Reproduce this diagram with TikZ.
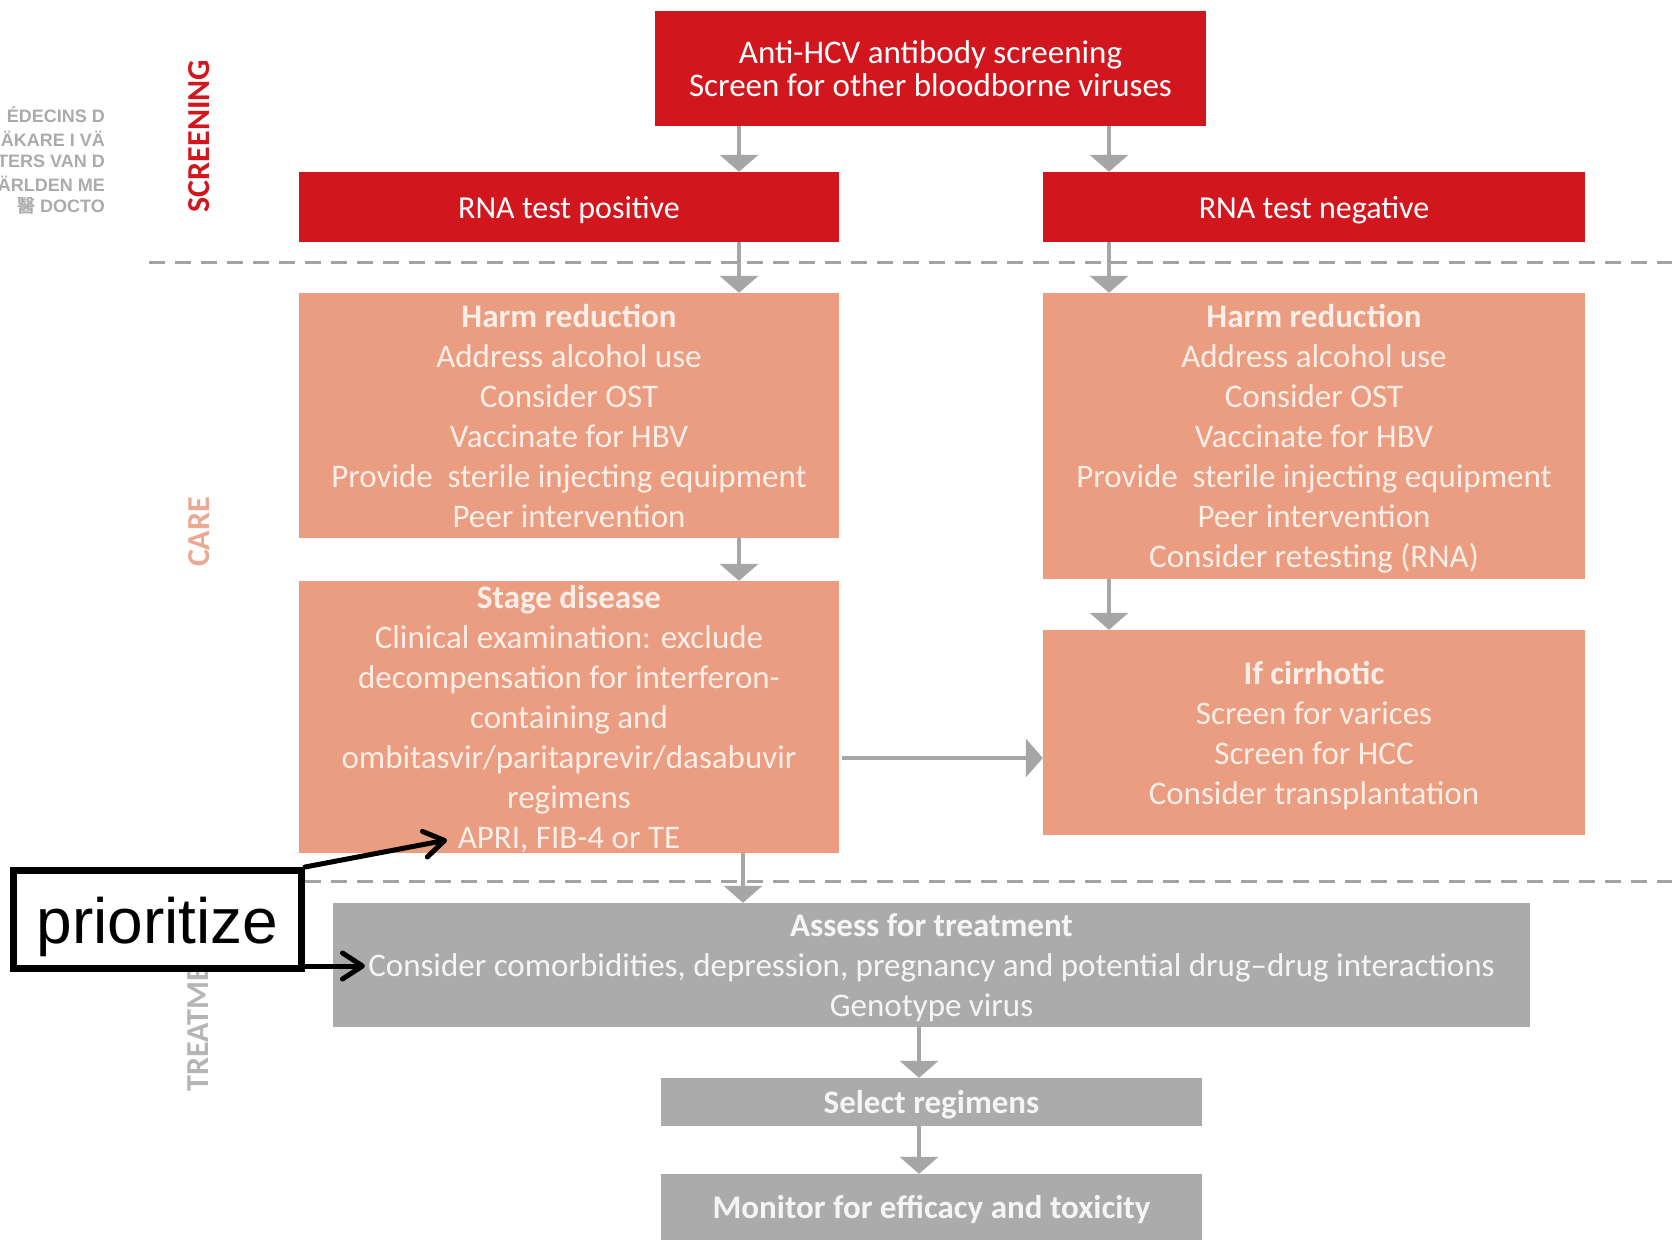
\documentclass[tikz,border=0pt]{standalone}
\usepackage{fontspec}
\setmainfont{Carlito}
\newfontfamily\wmfont{Liberation Sans}
\newfontfamily\calloutfont{Liberation Sans}
\newfontfamily\cjkfont{Noto Sans CJK TC}
\usetikzlibrary{arrows.meta,calc}
\definecolor{hred}{HTML}{D2161E}
\definecolor{salm}{HTML}{EA9D80}
\definecolor{saltxt}{HTML}{FDEEE8}
\definecolor{gbox}{HTML}{ABABAB}
\definecolor{gtxt}{HTML}{F5F5F5}
\definecolor{arrg}{HTML}{A6A6A6}
\definecolor{dashg}{HTML}{A3A3A3}
\definecolor{carec}{HTML}{EBA892}
\definecolor{treatc}{HTML}{B5B5B5}
\definecolor{wmc}{HTML}{ABABAB}
\newcommand\hiStrut{\rule{0pt}{32pt}}
\newcommand\loStrut{\rule[-9pt]{0pt}{9pt}}
\newcommand\hiStrutS{\rule{0pt}{26.5pt}}
\newcommand\loStrutS{\rule[-3.5pt]{0pt}{3.5pt}}
\begin{document}
\begin{tikzpicture}[x=1pt,y=-1pt,
  redbox/.style={fill=hred,text=white,inner sep=0pt,align=center,font=\fontsize{32}{33}\selectfont},
  salbox/.style={fill=salm,text=saltxt,inner sep=0pt,align=center,font=\fontsize{33}{40}\selectfont},
  greybox/.style={fill=gbox,text=gtxt,inner sep=0pt,align=center,font=\fontsize{33}{40}\selectfont},
  flow/.style={draw=arrg,line width=4pt,-{Triangle[width=38pt,length=17pt]}},
  sepline/.style={draw=dashg,line width=3pt,dash pattern=on 16pt off 10pt},
  side/.style={rotate=90,font=\fontsize{32}{32}\selectfont\bfseries,inner sep=0pt},
  wm/.style={font=\wmfont\bfseries\fontsize{18}{19}\selectfont,text=wmc,anchor=base east,inner sep=0pt},
  callout/.style={draw=black,line width=5pt,line cap=round,-{Straight Barb[length=20pt,width=26pt,round]}}
]
\useasboundingbox[fill=white] (0,0) rectangle (1672,1242);

% watermark fragments
\node[wm] (wm1) at (105,122) {ÉDECINS D};
\node[wm] (wm2) at (105,146) {ÄKARE I VÄ};
\node[wm] (wm3) at (105,167) {TERS VAN D};
\node[wm] (wm4) at (105,191) {ÄRLDEN ME};
\node[wm] (wm5) at (105,212) {{\cjkfont 醫} DOCTO};

% separators
\draw[sepline] (149,262) -- (1672,262);
\draw[sepline] (149,881) -- (1672,881);

% side labels
\node[side,text=hred] (lscr) at (199,136) {SCREENING};
\node[side,text=carec] (lcare) at (199,532) {CARE};
\node[side,text=treatc] (ltreat) at (198,1010) {TREATMENT};

% boxes
\node[redbox,minimum width=551pt,minimum height=115pt,font=\fontsize{33}{33}\selectfont] (top) at (930.5,68.5)
  {\hiStrut Anti-HCV antibody screening\\Screen for other bloodborne viruses\loStrut};
\node[redbox,minimum width=540pt,minimum height=70pt] (rnapos) at (569,207) {\hiStrut RNA test positive\loStrut};
\node[redbox,minimum width=542pt,minimum height=70pt] (rnaneg) at (1314,207) {\hiStrut RNA test negative\loStrut};

\node[salbox,minimum width=540pt,minimum height=245pt] (harmL) at (569,415.5)
  {\hiStrut\textbf{Harm reduction}\\Address alcohol use\\Consider OST\\Vaccinate for HBV\\Provide\ \ sterile injecting equipment\\Peer intervention\loStrut};
\node[salbox,minimum width=542pt,minimum height=286pt] (harmR) at (1314,436)
  {\hiStrut\textbf{Harm reduction}\\Address alcohol use\\Consider OST\\Vaccinate for HBV\\Provide\ \ sterile injecting equipment\\Peer intervention\\Consider retesting (RNA)\loStrut};
\node[salbox,minimum width=540pt,minimum height=272pt] (stage) at (569,717)
  {\hiStrutS\textbf{Stage disease}\\Clinical examination: exclude\\decompensation for interferon-\\containing and\\ombitasvir/paritaprevir/dasabuvir\\regimens\\APRI, FIB-4 or TE\loStrutS};
\node[salbox,minimum width=542pt,minimum height=205pt] (cirr) at (1314,732.5)
  {\hiStrut\textbf{If cirrhotic}\\Screen for varices\\Screen for HCC\\Consider transplantation\loStrut};

\node[greybox,minimum width=1197pt,minimum height=124pt] (assess) at (931.5,965)
  {\hiStrut\textbf{Assess for treatment}\\Consider comorbidities, depression, pregnancy and potential drug–drug interactions\\Genotype virus\loStrut};
\node[greybox,minimum width=541pt,minimum height=48pt] (select) at (931.5,1102) {\hiStrut\textbf{Select regimens}\loStrut};
\node[greybox,minimum width=541pt,minimum height=66pt] (monitor) at (931.5,1207) {\hiStrut\textbf{Monitor for efficacy and toxicity}\loStrut};

% flow connectors
\coordinate (cL) at (739,0);
\coordinate (cR) at (1109,0);
\coordinate (cS) at (743,0);
\coordinate (cM) at (919,0);
\draw[flow] (top.south -| cL) -- (rnapos.north -| cL);
\draw[flow] (top.south -| cR) -- (rnaneg.north -| cR);
\draw[flow] (rnapos.south -| cL) -- (harmL.north -| cL);
\draw[flow] (rnaneg.south -| cR) -- (harmR.north -| cR);
\draw[flow] (harmL.south -| cL) -- (stage.north -| cL);
\draw[flow] (harmR.south -| cR) -- (cirr.north -| cR);
\draw[flow] (stage.south -| cS) -- (assess.north -| cS);
\draw[flow] (assess.south -| cM) -- (select.north -| cM);
\draw[flow] (select.south -| cM) -- (monitor.north -| cM);
\coordinate (hy) at (0,758);
\draw[flow] ($(stage.east |- hy)+(3,0)$) -- (cirr.west |- hy);

% callout
\node[draw=black,line width=7pt,fill=white,minimum width=288pt,minimum height=98pt,inner sep=0pt,
      font=\calloutfont\fontsize{64}{64}\selectfont,text height=56pt,text depth=9pt] (prio) at (157.5,919.5) {prioritize};
\coordinate (aprip) at (447,840);
\coordinate (consp) at (365,966);
\draw[callout] (prio.north east) -- (aprip);
\draw[callout] (prio.south east |- consp) -- (consp);
\end{tikzpicture}
\end{document}
